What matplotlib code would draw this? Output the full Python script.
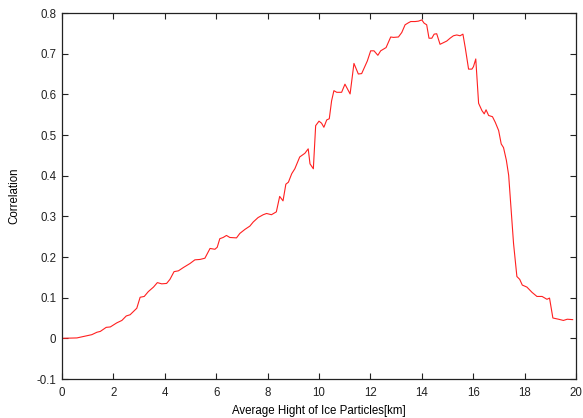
import matplotlib
matplotlib.use("Agg")
import matplotlib.pyplot as plt

height_km = [0.0, 0.58, 1.16, 1.36, 1.49, 1.72, 1.88, 2.13, 2.33, 2.5, 2.65, 2.78, 2.91, 3.04,
             3.2, 3.36, 3.56, 3.71, 3.88, 4.07, 4.2, 4.36, 4.53, 4.72, 4.98, 5.17, 5.37, 5.56,
             5.76, 5.95, 6.04, 6.14, 6.27, 6.4, 6.53, 6.79, 6.92, 7.12, 7.31, 7.44, 7.63, 7.83,
             7.96, 8.15, 8.34, 8.47, 8.6, 8.71, 8.81, 8.94, 9.06, 9.25, 9.45, 9.58, 9.65, 9.78,
             9.87, 10.0, 10.1, 10.19, 10.3, 10.4, 10.49, 10.58, 10.69, 10.88, 11.01, 11.21,
             11.36, 11.53, 11.66, 11.88, 12.01, 12.14, 12.29, 12.4, 12.61, 12.79, 12.9, 13.09,
             13.22, 13.35, 13.48, 13.57, 13.74, 13.87, 14.0, 14.09, 14.19, 14.28, 14.39, 14.48,
             14.58, 14.71, 14.84, 14.97, 15.1, 15.23, 15.36, 15.49, 15.6, 15.69, 15.82, 15.95,
             16.01, 16.1, 16.21, 16.34, 16.43, 16.5, 16.6, 16.75, 16.86, 16.99, 17.09, 17.18,
             17.29, 17.38, 17.47, 17.57, 17.7, 17.81, 17.91, 18.09, 18.29, 18.48, 18.68, 18.87,
             18.97, 19.1, 19.32, 19.51, 19.66, 19.87]
correlation = [0.0, 0.001, 0.009, 0.015, 0.017, 0.027, 0.028, 0.038, 0.044, 0.055, 0.058, 0.066,
               0.074, 0.101, 0.103, 0.115, 0.126, 0.137, 0.134, 0.135, 0.145, 0.164, 0.166, 0.174,
               0.184, 0.193, 0.194, 0.197, 0.221, 0.219, 0.224, 0.245, 0.248, 0.253, 0.248, 0.247,
               0.258, 0.268, 0.276, 0.286, 0.297, 0.304, 0.307, 0.304, 0.311, 0.349, 0.338, 0.379,
               0.384, 0.405, 0.417, 0.446, 0.455, 0.466, 0.429, 0.417, 0.523, 0.534, 0.529, 0.519,
               0.537, 0.540, 0.584, 0.609, 0.605, 0.605, 0.625, 0.601, 0.676, 0.650, 0.651, 0.682,
               0.707, 0.707, 0.696, 0.707, 0.715, 0.741, 0.740, 0.741, 0.752, 0.771, 0.776, 0.779,
               0.779, 0.780, 0.783, 0.775, 0.771, 0.738, 0.738, 0.748, 0.749, 0.723, 0.727, 0.731,
               0.738, 0.744, 0.746, 0.744, 0.748, 0.715, 0.662, 0.662, 0.668, 0.687, 0.578, 0.560,
               0.552, 0.562, 0.548, 0.545, 0.531, 0.511, 0.478, 0.469, 0.438, 0.401, 0.323, 0.233,
               0.152, 0.145, 0.131, 0.126, 0.113, 0.103, 0.103, 0.096, 0.099, 0.050, 0.047, 0.044,
               0.047, 0.046]

x_ticks = [0, 2, 4, 6, 8, 10, 12, 14, 16, 18, 20]
y_ticks = [-0.1, 0, 0.1, 0.2, 0.3, 0.4, 0.5, 0.6, 0.7, 0.8]
y_tick_labels = ["-0.1", "0", "0.1", "0.2", "0.3", "0.4", "0.5", "0.6", "0.7", "0.8"]

plt.rcParams['font.family'] = ['Liberation Sans', 'DejaVu Sans']

fig = plt.figure(figsize=(5.83, 4.18), dpi=100)
ax = fig.add_axes([62 / 583, 1 - 379 / 418, (576 - 62) / 583, (379 - 13) / 418])
ax.plot(height_km, correlation, color='#ff2020', linewidth=0.8)
ax.set_xlim(0, 20)
ax.set_ylim(-0.1, 0.8)
ax.set_xticks(x_ticks)
ax.set_xticklabels([str(t) for t in x_ticks])
ax.set_yticks(y_ticks)
ax.set_yticklabels(y_tick_labels)
ax.tick_params(direction='in', top=True, right=True, length=4, width=0.8,
               labelsize=8.3, colors='#222222', pad=4)
ax.tick_params(axis='x', pad=6)
for s in ax.spines.values():
    s.set_linewidth(0.9)
    s.set_color('#222222')
ax.set_xlabel("Average Hight of Ice Particles[km]", fontsize=8.3, labelpad=4)
ax.set_ylabel("Correlation", fontsize=8.3, labelpad=12)
fig.savefig("out.png", dpi=100)
